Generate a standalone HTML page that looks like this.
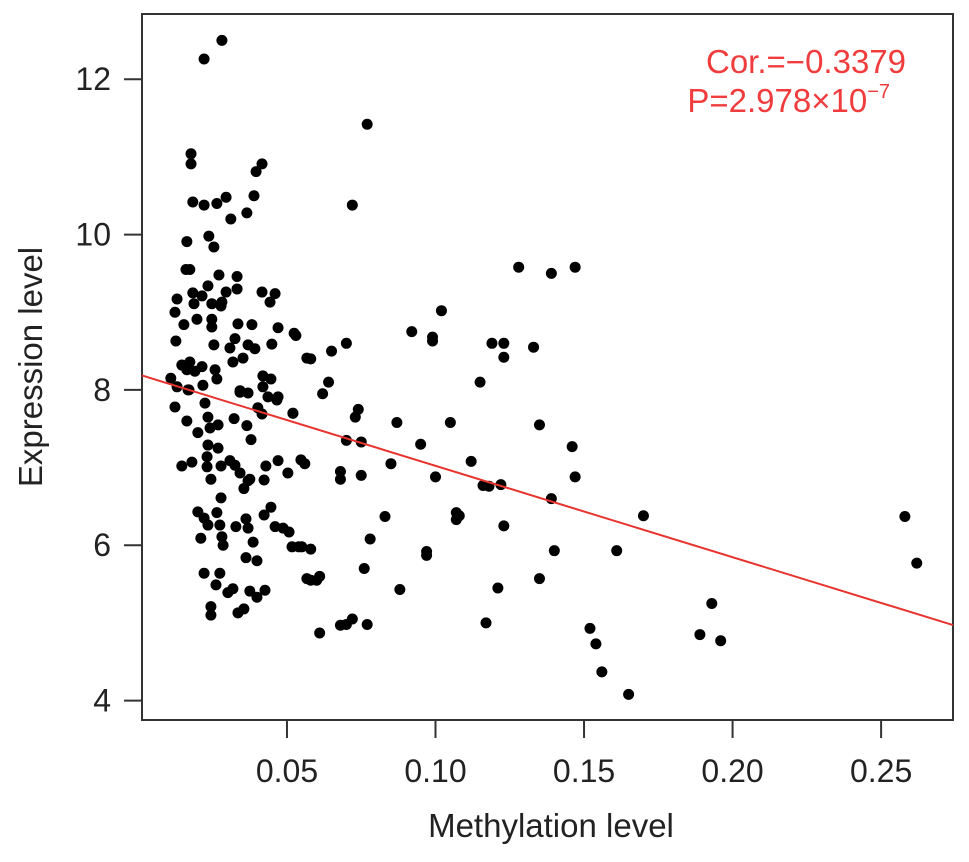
<!DOCTYPE html>
<html><head><meta charset="utf-8"><style>
body{margin:0;background:#fff;}
svg text{font-family:"Liberation Sans",Arial,sans-serif;}
</style></head><body>
<svg id="chart" width="969" height="857" viewBox="0 0 969 857">
<rect x="142" y="14" width="811" height="706" fill="none" stroke="#333" stroke-width="2"/>
<g id="points"></g>
<g id="xaxis"></g>
<g id="yaxis"></g>
<text x="551" y="837" font-size="33" text-anchor="middle" fill="#222">Methylation level</text>
<text transform="translate(42,367) rotate(-90)" font-size="33" text-anchor="middle" fill="#222">Expression level</text>
<text x="906" y="73" font-size="33" text-anchor="end" fill="#f03c3c">Cor.=−0.3379</text>
<text x="890" y="112" font-size="33" text-anchor="end" fill="#f03c3c">P=2.978×10<tspan font-size="20" dy="-14">−7</tspan></text>
</svg>
<script>
const xTicks=[0.05,0.10,0.15,0.20,0.25];
const xTickLabels=["0.05","0.10","0.15","0.20","0.25"];
const yTicks=[4,6,8,10,12];
const yTickLabels=["4","6","8","10","12"];
const regIntercept=8.20;
const regSlope=-11.77;
const methylation=[0.0281,0.0221,0.0177,0.0177,0.0416,0.0396,0.0183,0.0221,0.0264,0.0295,0.0389,0.0365,0.0311,0.0163,0.0237,0.0254,0.0160,0.0173,0.0271,0.0332,0.0234,0.0183,0.0214,0.0295,0.0332,0.0416,0.0460,0.0443,0.0130,0.0123,0.0187,0.0247,0.0281,0.0278,0.0197,0.0247,0.0153,0.0247,0.0335,0.0382,0.0470,0.0524,0.0126,0.0254,0.0325,0.0308,0.0369,0.0392,0.0449,0.0567,0.0318,0.0352,0.0146,0.0173,0.0163,0.0190,0.0214,0.0258,0.0264,0.0419,0.0446,0.0109,0.0130,0.0170,0.0217,0.0342,0.0369,0.0419,0.0436,0.0470,
0.0123,0.0167,0.0224,0.0163,0.0234,0.0200,0.0241,0.0268,0.0322,0.0365,0.0379,0.0416,0.0402,0.0466,0.0520,0.0342,0.0234,0.0268,0.0231,0.0231,0.0146,0.0180,0.0278,0.0308,0.0325,0.0342,0.0369,0.0355,0.0375,0.0429,0.0470,0.0503,0.0547,0.0423,0.0244,0.0278,0.0200,0.0221,0.0264,0.0234,0.0274,0.0281,0.0285,0.0210,0.0328,0.0362,0.0369,0.0386,0.0423,0.0446,0.0460,0.0487,0.0507,0.0517,0.0540,0.0362,0.0399,0.0567,0.0221,0.0274,0.0261,0.0301,0.0318,0.0375,0.0399,0.0426,0.0244,0.0244,0.0335,0.0355,
0.065,0.062,0.064,0.058,0.060,0.061,0.058,0.061,0.058,0.055,0.053,0.052,0.056,
0.072,0.077,0.070,0.074,0.073,0.070,0.075,0.068,0.068,0.075,0.076,0.078,0.072,0.070,0.068,0.077,0.083,0.085,0.087,0.088,0.092,0.099,0.099,0.102,0.095,0.100,0.097,0.097,0.105,0.107,0.108,0.107,0.112,0.115,0.116,0.118,0.119,0.123,0.123,0.122,0.123,0.121,0.117,0.128,0.133,0.135,0.139,0.139,0.140,0.135,0.147,0.146,0.147,0.152,0.154,0.156,0.161,0.165,0.170,0.189,0.193,0.196,0.258,0.262];
const expression=[12.50,12.26,11.04,10.91,10.91,10.81,10.42,10.38,10.40,10.48,10.50,10.28,10.20,9.91,9.98,9.84,9.55,9.55,9.48,9.46,9.34,9.25,9.21,9.26,9.30,9.26,9.24,9.13,9.17,9.00,9.11,9.11,9.13,9.08,8.91,8.91,8.84,8.81,8.85,8.84,8.80,8.73,8.63,8.58,8.66,8.54,8.58,8.53,8.59,8.41,8.36,8.41,8.32,8.36,8.26,8.24,8.30,8.26,8.14,8.18,8.14,8.15,8.04,8.00,8.06,7.99,7.96,8.04,7.91,7.91,
7.78,8.00,7.83,7.60,7.65,7.45,7.51,7.55,7.63,7.54,7.36,7.69,7.77,7.87,7.70,7.97,7.29,7.25,7.14,7.01,7.02,7.07,7.02,7.09,7.03,6.93,6.83,6.73,6.85,7.02,7.09,6.93,7.10,6.84,6.85,6.61,6.43,6.35,6.42,6.26,6.26,6.11,6.00,6.09,6.24,6.34,6.22,6.04,6.39,6.49,6.24,6.22,6.17,5.98,5.98,5.84,5.80,5.57,5.64,5.64,5.49,5.39,5.44,5.41,5.33,5.42,5.21,5.10,5.13,5.18,
8.50,7.95,8.10,8.40,5.55,5.60,5.55,4.87,5.95,5.98,8.70,7.70,7.05,
10.38,11.42,8.60,7.75,7.65,7.35,7.33,6.95,6.85,6.90,5.70,6.08,5.05,4.98,4.97,4.98,6.37,7.05,7.58,5.43,8.75,8.68,8.63,9.02,7.30,6.88,5.92,5.87,7.58,6.33,6.38,6.42,7.08,8.10,6.77,6.76,8.60,8.60,8.42,6.78,6.25,5.45,5.00,9.58,8.55,7.55,9.50,6.60,5.93,5.57,9.58,7.27,6.88,4.93,4.73,4.37,5.93,4.08,6.38,4.85,5.25,4.77,6.37,5.77];
const NS='http://www.w3.org/2000/svg';
const X0=142,X1=953,Y0=14,Y1=720;
const xMin=0.0012,xMax=0.2742,yMin=3.75,yMax=12.84;
function sx(v){return X0+(v-xMin)/(xMax-xMin)*(X1-X0);}
function sy(v){return Y1-(v-yMin)/(yMax-yMin)*(Y1-Y0);}
function mk(tag,attrs,parent){const e=document.createElementNS(NS,tag);for(const k in attrs)e.setAttribute(k,attrs[k]);parent.appendChild(e);return e;}
const pg=document.getElementById('points');
for(let i=0;i<methylation.length;i++){
 const c=mk('circle',{cx:sx(methylation[i]),cy:sy(expression[i]),r:5.5,fill:'#000'},pg);
 
 
}
const xl=xMin,xr=xMax;
const line=mk('line',{x1:sx(xl),y1:sy(regIntercept+regSlope*xl),x2:sx(xr),y2:sy(regIntercept+regSlope*xr),stroke:'#e8342f','stroke-width':2},document.getElementById('chart'));


const xg=document.getElementById('xaxis');
xTicks.forEach((t,i)=>{
 const tk=mk('line',{x1:sx(t),x2:sx(t),y1:Y1,y2:Y1+18,stroke:'#333','stroke-width':2},xg);
 
 
 const tx=mk('text',{x:sx(t),y:782,'font-size':32,'text-anchor':'middle',fill:'#222'},xg);
 tx.textContent=xTickLabels[i];
 
 
});
const yg=document.getElementById('yaxis');
yTicks.forEach((t,i)=>{
 const tk=mk('line',{x1:X0-18,x2:X0,y1:sy(t),y2:sy(t),stroke:'#333','stroke-width':2},yg);
 
 
 const tx=mk('text',{x:X0-31,y:sy(t)+11,'font-size':32,'text-anchor':'end',fill:'#222'},yg);
 tx.textContent=yTickLabels[i];
 
 
});
</script>
</body></html>
